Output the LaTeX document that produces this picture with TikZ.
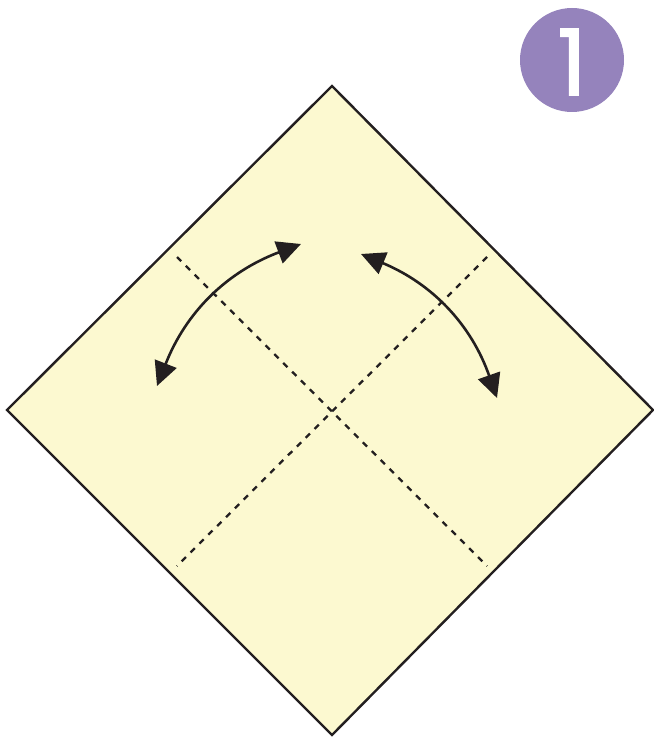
\documentclass[tikz,border=0pt]{standalone}
\usepackage{fontspec}
\newfontfamily\numfont[FakeBold=1.6]{Poppins}
\usetikzlibrary{arrows.meta}
\definecolor{paper}{RGB}{252,249,208}
\definecolor{badge}{RGB}{149,131,188}
\definecolor{ink}{RGB}{35,31,32}
\tikzset{
  foldline/.style={ink, line width=2.3pt, dash pattern=on 6pt off 6.5pt},
  edge/.style={ink, line width=2.4pt, line join=miter},
  flip/.style={ink, line width=2.6pt, {Triangle[length=24pt,width=23pt]}-{Triangle[length=24pt,width=23pt]}},
}
\begin{document}
\begin{tikzpicture}[x=1pt,y=-1pt]
\useasboundingbox (0,0) rectangle (653,738);
\coordinate (T) at (332,86);
\coordinate (L) at (7,410);
\coordinate (R) at (653,410);
\coordinate (B) at (332,735);
\filldraw[edge, fill=paper] (T) -- (R) -- (B) -- (L) -- cycle;
\coordinate (d1a) at (177,257);
\coordinate (d1b) at (487,566);
\coordinate (d2a) at (487,257);
\coordinate (d2b) at (177,566);
\draw[foldline] (d1a) -- (d1b);
\draw[foldline] (d2a) -- (d2b);
\coordinate (a1s) at (157,386);
\coordinate (a1e) at (301,244);
\coordinate (a2s) at (361,254);
\coordinate (a2e) at (497,398);
\draw[flip] (a1s) to[bend left=24] (a1e);
\draw[flip] (a2s) to[bend left=24] (a2e);
\node[circle, fill=badge, minimum size=104pt, inner sep=0pt] (badge) at (572,60) {};
\node[text=white, inner sep=0pt] (num) at (572,62) {\numfont\fontsize{92}{92}\selectfont 1};
\end{tikzpicture}
\end{document}
